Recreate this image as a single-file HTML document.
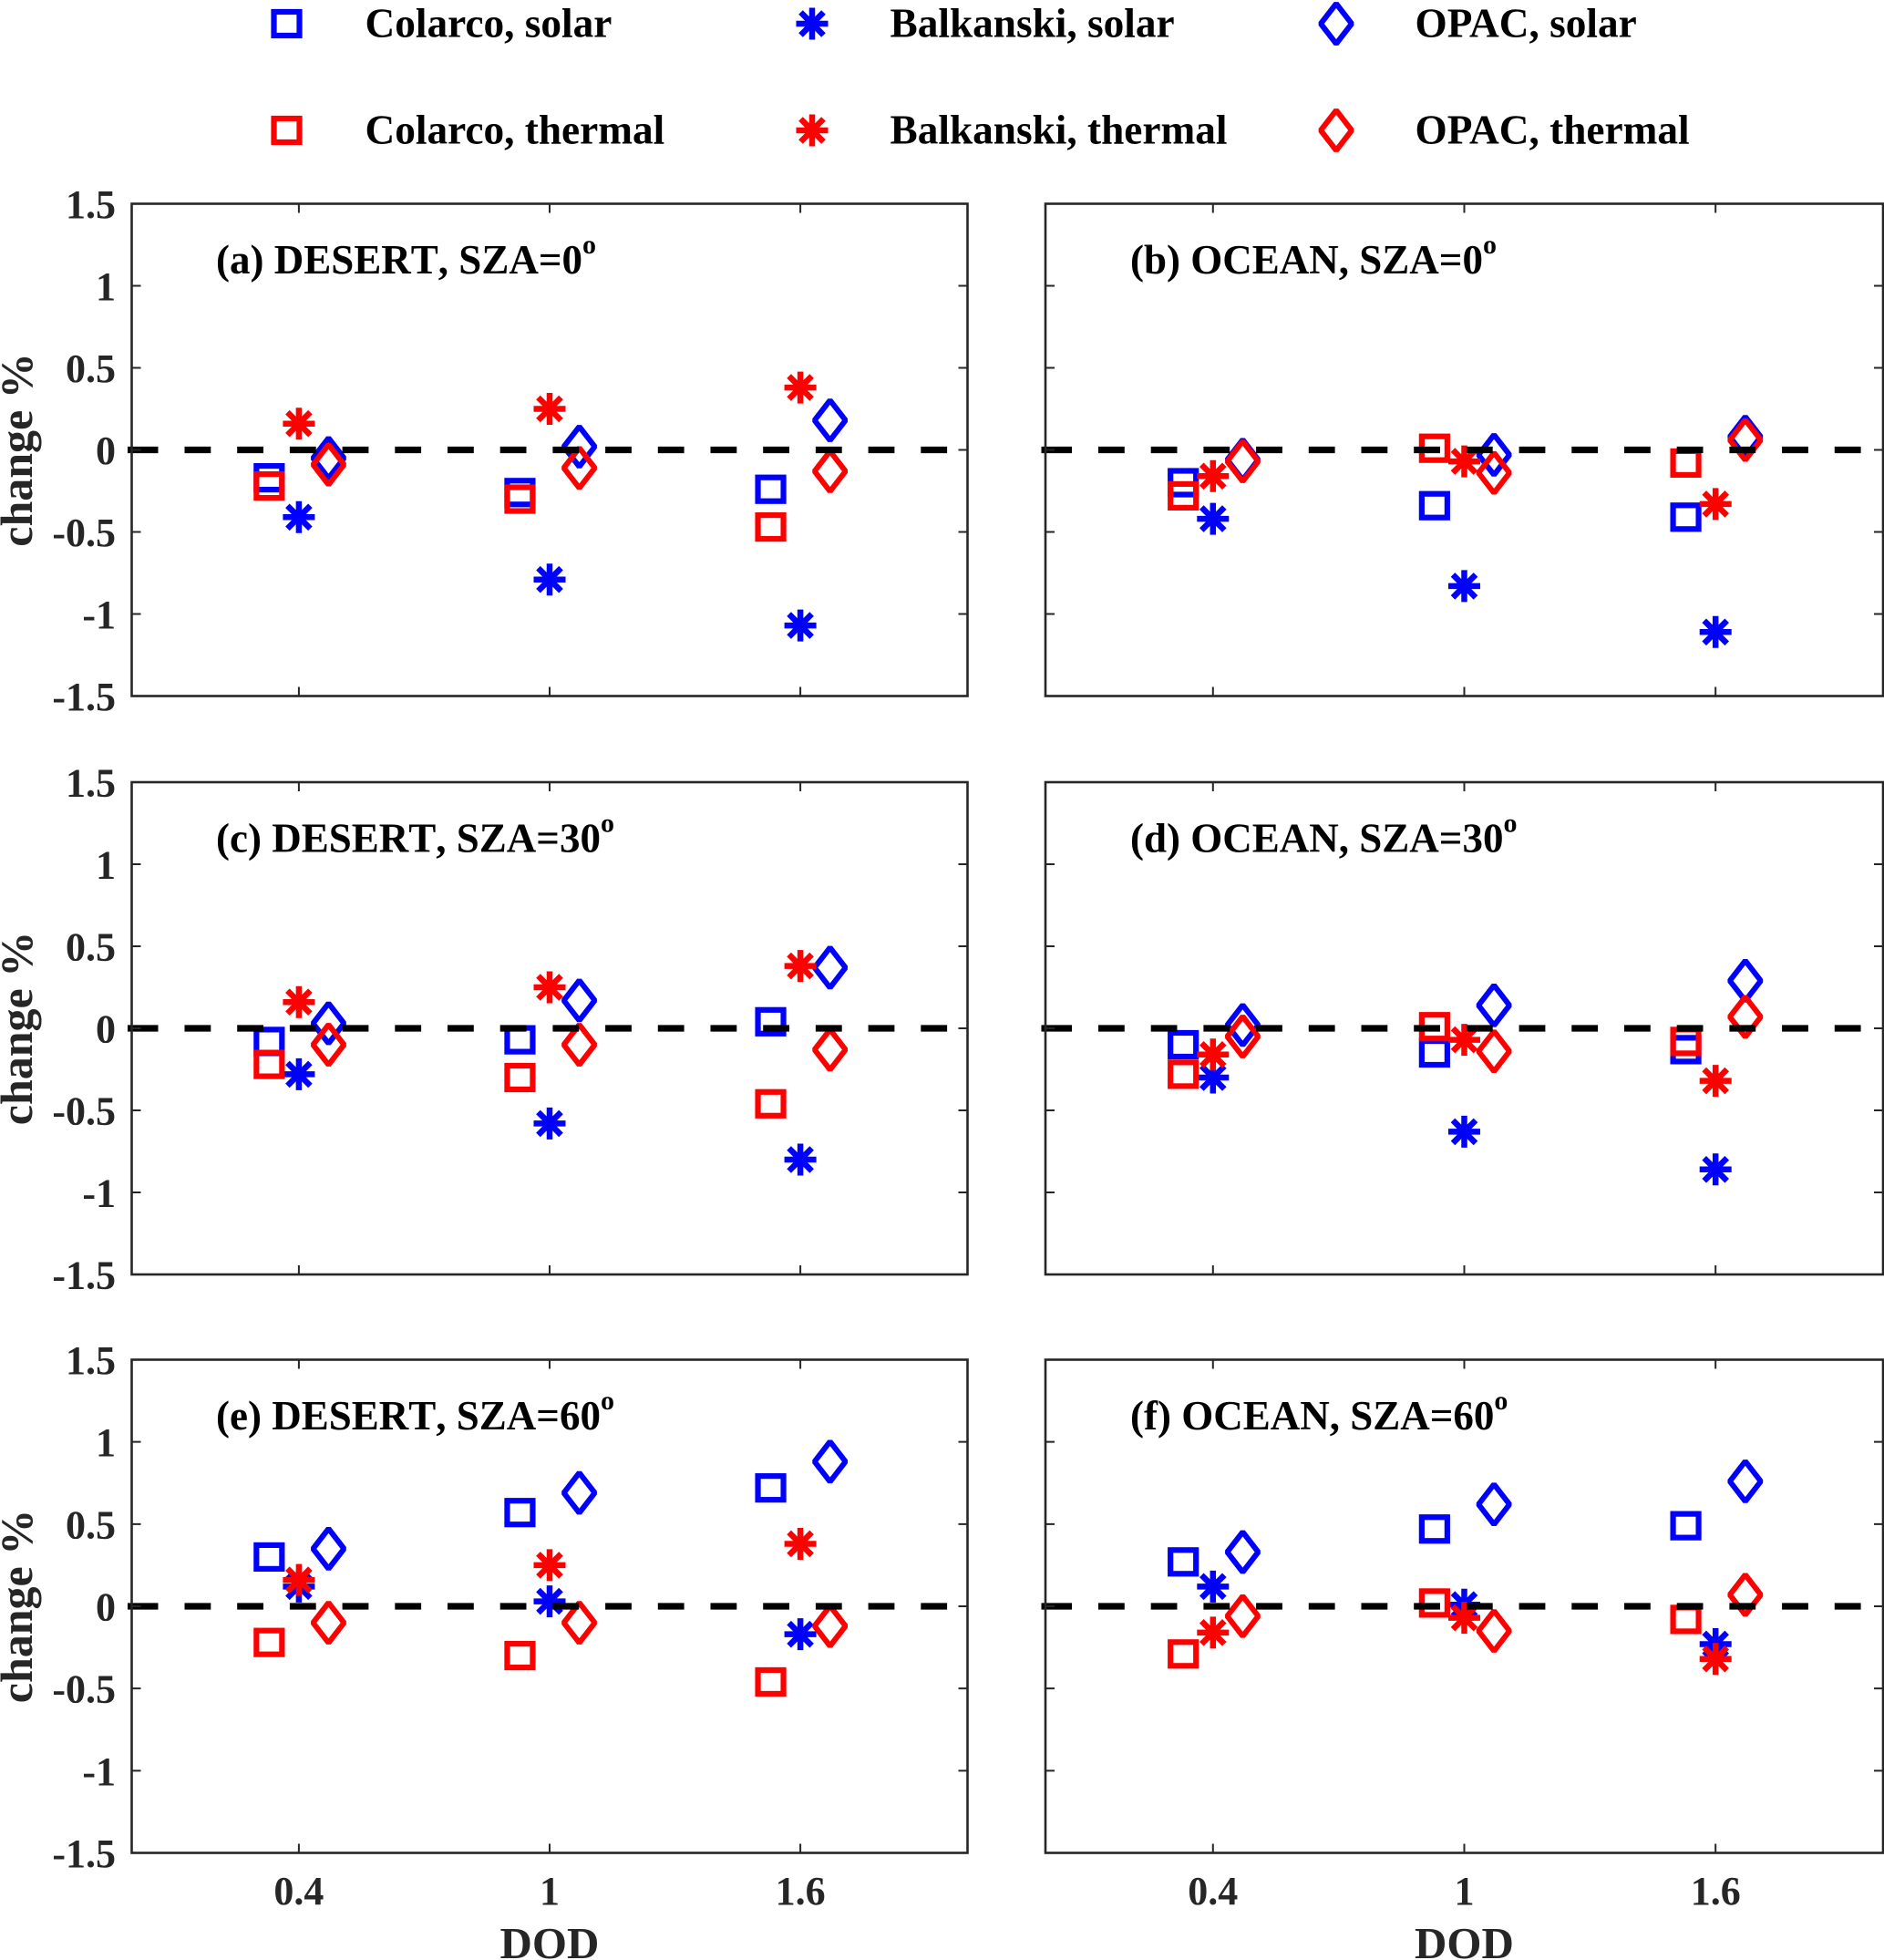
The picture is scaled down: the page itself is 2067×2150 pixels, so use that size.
<!DOCTYPE html>
<html lang="en">
<head>
<meta charset="utf-8">
<title>Change in percent by DOD</title>
<style>
html,body{margin:0;padding:0;background:#fff;width:2067px;height:2150px;overflow:hidden}
svg{display:block}
text{font-family:"Liberation Serif","Times New Roman",serif;font-weight:bold}
</style>
</head>
<body>
<svg id="chart" xmlns="http://www.w3.org/2000/svg" width="2067" height="2150" viewBox="0 0 2067 2150"></svg>
<script>
const categories = [0.4, 1, 1.6];
const categoryLabels = ['0.4', '1', '1.6'];
const yTicks = [-1.5, -1, -0.5, 0, 0.5, 1, 1.5];
const yTickLabels = ['-1.5', '-1', '-0.5', '0', '0.5', '1', '1.5'];
const panelTitles = ['(a) DESERT, SZA=0', '(b) OCEAN, SZA=0', '(c) DESERT, SZA=30', '(d) OCEAN, SZA=30', '(e) DESERT, SZA=60', '(f) OCEAN, SZA=60'];
const yAxisTitle = 'change %';
const xAxisTitle = 'DOD';

/* each series: one row per panel a-f, one value per DOD category */
const colarcoSolar = [
  [-0.17, -0.26, -0.24],
  [-0.20, -0.34, -0.41],
  [-0.08, -0.07, 0.04],
  [-0.10, -0.15, -0.13],
  [0.30, 0.57, 0.72],
  [0.27, 0.47, 0.49]
];
const balkanskiSolar = [
  [-0.41, -0.79, -1.07],
  [-0.42, -0.83, -1.11],
  [-0.28, -0.58, -0.80],
  [-0.30, -0.63, -0.86],
  [0.12, 0.03, -0.17],
  [0.12, 0.01, -0.23]
];
const opacSolar = [
  [-0.05, 0.02, 0.18],
  [-0.06, -0.03, 0.08],
  [0.03, 0.17, 0.37],
  [0.02, 0.14, 0.29],
  [0.35, 0.69, 0.88],
  [0.33, 0.62, 0.76]
];
const colarcoThermal = [
  [-0.22, -0.30, -0.47],
  [-0.28, 0.01, -0.08],
  [-0.22, -0.30, -0.46],
  [-0.28, 0.01, -0.08],
  [-0.22, -0.30, -0.46],
  [-0.29, 0.02, -0.08]
];
const balkanskiThermal = [
  [0.16, 0.25, 0.38],
  [-0.16, -0.07, -0.33],
  [0.16, 0.25, 0.38],
  [-0.16, -0.07, -0.32],
  [0.16, 0.25, 0.38],
  [-0.16, -0.07, -0.32]
];
const opacThermal = [
  [-0.09, -0.11, -0.13],
  [-0.07, -0.14, 0.06],
  [-0.10, -0.10, -0.13],
  [-0.05, -0.14, 0.07],
  [-0.10, -0.10, -0.12],
  [-0.06, -0.15, 0.07]
];

const NS = 'http://www.w3.org/2000/svg';
const svg = document.getElementById('chart');
const BLUE = '#0000ff', RED = '#ff0000', INK = '#262626';

function make(tag, parent, attrs) {
  const el = document.createElementNS(NS, tag);
  for (const k in attrs) el.setAttribute(k, attrs[k]);
  parent.appendChild(el);
  return el;
}

function drawSquare(parent, cx, cy, color) {
  const el = make('rect', parent, {x: cx - 14, y: cy - 13, width: 28, height: 26, fill: 'none', stroke: color, 'stroke-width': 6.2});
  
  
}
function drawStar(parent, cx, cy, color) {
  const r = 17.5, d = 12.5;
  const p = 'M' + cx + ' ' + (cy - r) + 'V' + (cy + r) +
    'M' + (cx - r) + ' ' + cy + 'H' + (cx + r) +
    'M' + (cx - d) + ' ' + (cy - d) + 'L' + (cx + d) + ' ' + (cy + d) +
    'M' + (cx - d) + ' ' + (cy + d) + 'L' + (cx + d) + ' ' + (cy - d);
  const el = make('path', parent, {d: p, fill: 'none', stroke: color, 'stroke-width': 6.5});
  
  
}
function drawDiamond(parent, cx, cy, color) {
  const rx = 17, ry = 22;
  const p = 'M' + cx + ' ' + (cy - ry) + 'L' + (cx + rx) + ' ' + cy + 'L' + cx + ' ' + (cy + ry) + 'L' + (cx - rx) + ' ' + cy + 'Z';
  const el = make('path', parent, {d: p, fill: 'none', stroke: color, 'stroke-width': 6, 'stroke-linejoin': 'bevel'});
  
  
}

const seriesList = [
  {name: 'colarco-solar', values: colarcoSolar, draw: drawSquare, color: BLUE, offset: -0.071},
  {name: 'balkanski-solar', values: balkanskiSolar, draw: drawStar, color: BLUE, offset: 0},
  {name: 'opac-solar', values: opacSolar, draw: drawDiamond, color: BLUE, offset: 0.071},
  {name: 'colarco-thermal', values: colarcoThermal, draw: drawSquare, color: RED, offset: -0.071},
  {name: 'balkanski-thermal', values: balkanskiThermal, draw: drawStar, color: RED, offset: 0},
  {name: 'opac-thermal', values: opacThermal, draw: drawDiamond, color: RED, offset: 0.071}
];

const colLeft = [144.5, 1147];
const colRight = [1061.5, 2066];
const rowTop = [223.5, 858, 1491.5];
const rowBottom = [763.5, 1398, 2032.5];
const X_MIN = 0, X_MAX = 2, Y_MIN = -1.5, Y_MAX = 1.5;

function drawPanel(i) {
  const col = i % 2, row = Math.floor(i / 2);
  const L = colLeft[col], R = colRight[col], T = rowTop[row], B = rowBottom[row];
  const x = v => L + (v - X_MIN) / (X_MAX - X_MIN) * (R - L);
  const y = v => B - (v - Y_MIN) / (Y_MAX - Y_MIN) * (B - T);

  const g = make('g', svg, {});
  
  

  /* series */
  seriesList.forEach(s => {
    const sg = make('g', g, {});
    
    
    categories.forEach((c, k) => s.draw(sg, x(c + s.offset), y(s.values[i][k]), s.color));
  });

  /* zero dashed line */
  const stub = make('line', g, {x1: L - 4.5, x2: L + 29, y1: y(0), y2: y(0), stroke: '#000', 'stroke-width': 7.3});
  
  
  const zero = make('line', g, {x1: L + 58, x2: R, y1: y(0), y2: y(0), stroke: '#000', 'stroke-width': 7.3, 'stroke-dasharray': '28.8 28.9'});
  
  

  /* box */
  const box = make('rect', g, {x: L, y: T, width: R - L, height: B - T, fill: 'none', stroke: INK, 'stroke-width': 2.6});
  
  

  /* y ticks */
  yTicks.forEach((t, k) => {
    if (t > Y_MIN && t < Y_MAX) {
      const tk = make('path', g, {d: 'M' + L + ' ' + y(t) + 'h10M' + R + ' ' + y(t) + 'h-10', stroke: INK, 'stroke-width': 2, fill: 'none'});
      
      
    }
    if (col === 0) {
      const lb = make('text', g, {x: 127, y: y(t) + 15.5, 'text-anchor': 'end', 'font-size': 44, fill: INK});
      lb.textContent = yTickLabels[k];
      
      
    }
  });

  /* x ticks */
  categories.forEach((c, k) => {
    const tk = make('path', g, {d: 'M' + x(c) + ' ' + T + 'v10M' + x(c) + ' ' + B + 'v-10', stroke: INK, 'stroke-width': 2, fill: 'none'});
    
    
    if (row === 2) {
      const lb = make('text', g, {x: x(c), y: 2089, 'text-anchor': 'middle', 'font-size': 44, fill: INK});
      lb.textContent = categoryLabels[k];
      
      
    }
  });

  /* panel title */
  const title = make('text', g, {x: col === 0 ? 237 : 1240, y: T + 76.5, 'font-size': 45, fill: '#000', style: 'font-kerning:none'});
  
  
  title.appendChild(document.createTextNode(panelTitles[i]));
  const sup = make('tspan', title, {dy: -22, 'font-size': 30});
  sup.textContent = 'o';

  /* y axis title */
  if (col === 0) {
    const cy = (T + B) / 2;
    const yt = make('text', g, {x: 35, y: cy, transform: 'rotate(-90 35 ' + cy + ')', 'text-anchor': 'middle', 'font-size': 50, fill: INK});
    yt.textContent = yAxisTitle;
    
    
  }
  /* x axis title */
  if (row === 2) {
    const xt = make('text', g, {x: (L + R) / 2, y: 2148, 'text-anchor': 'middle', 'font-size': 49, fill: INK});
    xt.textContent = xAxisTitle;
    
    
  }
}

panelTitles.forEach((_, i) => drawPanel(i));

/* legend */
const legendEntries = ['Colarco, solar', 'Balkanski, solar', 'OPAC, solar', 'Colarco, thermal', 'Balkanski, thermal', 'OPAC, thermal'];
const legendColors = [BLUE, BLUE, BLUE, RED, RED, RED];
const legendDraw = [drawSquare, drawStar, drawDiamond, drawSquare, drawStar, drawDiamond];
const legendMarkerX = [314.5, 891, 1466];
const legendTextX = [400.5, 976.5, 1552.5];
const legendMarkerY = [26, 143];
const legendTextY = [40.5, 157.5];

legendEntries.forEach((label, i) => {
  const c = i % 3, r = Math.floor(i / 3);
  const g = make('g', svg, {});
  
  
  legendDraw[i](g, legendMarkerX[c], legendMarkerY[r], legendColors[i]);
  const t = make('text', g, {x: legendTextX[c], y: legendTextY[r], 'font-size': 45.3, fill: '#000'});
  t.textContent = label;
  
  
});
</script>
</body>
</html>
